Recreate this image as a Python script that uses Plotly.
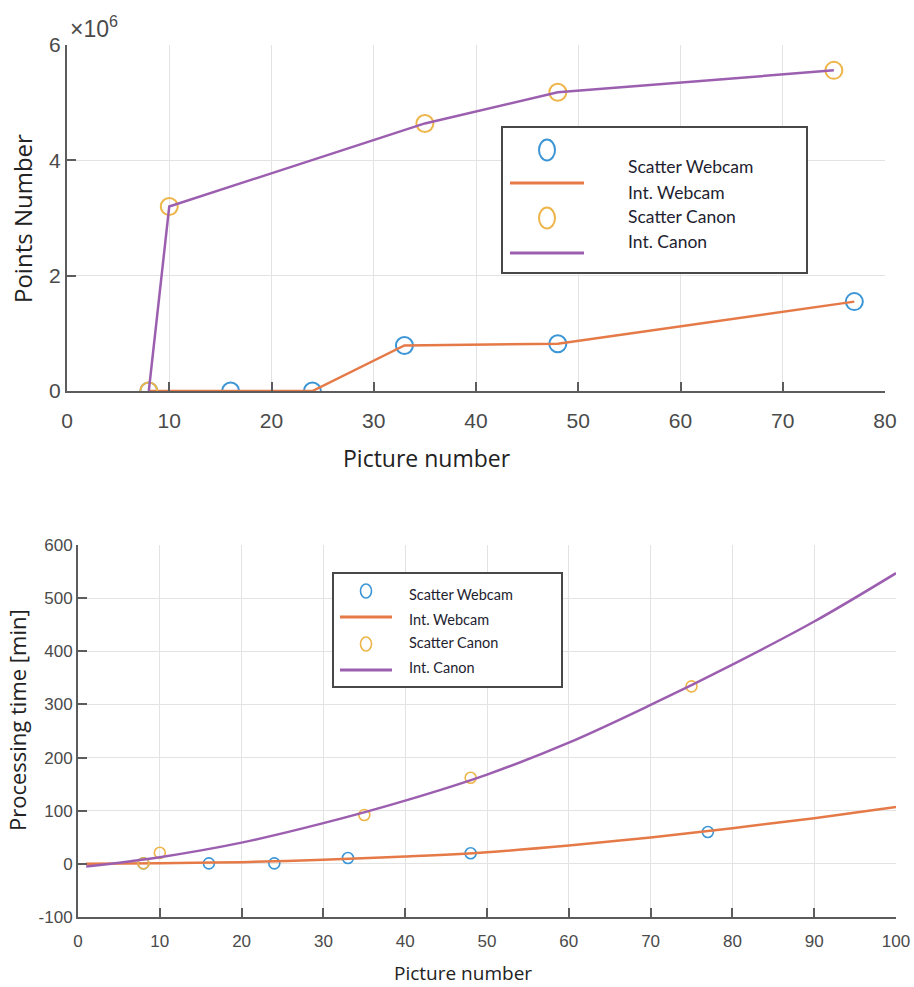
import plotly.graph_objects as go

# ---------------- data (top: number of points) ----------------
webcam_pic = [8, 16, 24, 33, 48, 77]
webcam_points = [0, 0, 0, 0.79e6, 0.82e6, 1.55e6]
canon_pic = [8, 10, 35, 48, 75]
canon_points = [0, 3.2e6, 4.64e6, 5.18e6, 5.56e6]

# ---------------- data (bottom: processing time) ----------------
webcam_time = [1, 1, 1, 11, 20, 60]
canon_time = [1, 21, 92, 162, 334]
fit_x = [1, 10, 20, 30, 40, 50, 60, 70, 80, 90, 100]
webcam_fit = [0, 1.3, 3.2, 7.5, 13.8, 22, 34.5, 49.6, 67, 86, 107]
canon_fit = [-5, 12.6, 40, 76.6, 119, 168, 228, 299, 375, 456, 547]

top_xticks = list(range(0, 81, 10))
top_yticks = [0, 2e6, 4e6, 6e6]
top_yticktext = ["0", "2", "4", "6"]
bot_xticks = list(range(0, 101, 10))
bot_yticks = list(range(-100, 601, 100))
bot_yticktext = ["-100", "0", "100", "200", "300", "400", "500", "600"]

legend_labels = ["Scatter Webcam", "Int. Webcam", "Scatter Canon", "Int. Canon"]

BLUE = "#3C96D6"
ORANGE = "#E57A48"
YELLOW = "#EDB54A"
PURPLE = "#9C5FB0"
AXC = "#5c5c5c"
GRID = "#e3e3e3"
TICKFONT = "Liberation Sans, Arial, sans-serif"
TITLEFONT = "Open Sans, sans-serif"
LEGFONT = "Lato, sans-serif"

W, H = 914, 987


def px(x):
    return x / W


def py(y):
    return 1 - y / H


fig = go.Figure()

# top chart
fig.add_trace(go.Scatter(x=webcam_pic, y=webcam_points, mode="markers",
                         marker=dict(symbol="circle-open", size=17, color=BLUE, line=dict(width=2)),
                         xaxis="x", yaxis="y", showlegend=False))
fig.add_trace(go.Scatter(x=webcam_pic, y=webcam_points, mode="lines",
                         line=dict(color=ORANGE, width=2.5), xaxis="x", yaxis="y", showlegend=False))
fig.add_trace(go.Scatter(x=canon_pic, y=canon_points, mode="markers",
                         marker=dict(symbol="circle-open", size=17, color=YELLOW, line=dict(width=2)),
                         xaxis="x", yaxis="y", showlegend=False))
fig.add_trace(go.Scatter(x=canon_pic, y=canon_points, mode="lines",
                         line=dict(color=PURPLE, width=2.5), xaxis="x", yaxis="y", showlegend=False))

# bottom chart
fig.add_trace(go.Scatter(x=webcam_pic, y=webcam_time, mode="markers",
                         marker=dict(symbol="circle-open", size=11, color=BLUE, line=dict(width=1.6)),
                         xaxis="x2", yaxis="y2", showlegend=False))
fig.add_trace(go.Scatter(x=fit_x, y=webcam_fit, mode="lines", line_shape="spline",
                         line=dict(color=ORANGE, width=2.5), xaxis="x2", yaxis="y2", showlegend=False))
fig.add_trace(go.Scatter(x=canon_pic, y=canon_time, mode="markers",
                         marker=dict(symbol="circle-open", size=11, color=YELLOW, line=dict(width=1.6)),
                         xaxis="x2", yaxis="y2", showlegend=False))
fig.add_trace(go.Scatter(x=fit_x, y=canon_fit, mode="lines", line_shape="spline",
                         line=dict(color=PURPLE, width=2.5), xaxis="x2", yaxis="y2", showlegend=False))


def axis(**kw):
    d = dict(showline=True, linecolor=AXC, linewidth=2, ticks="inside", ticklen=9,
             tickwidth=2, tickcolor=AXC, showgrid=True, gridcolor=GRID, gridwidth=1,
             zeroline=False, fixedrange=True, automargin=False)
    d.update(kw)
    return d


fig.update_layout(
    width=W, height=H, autosize=False,
    margin=dict(l=0, r=0, t=0, b=0),
    paper_bgcolor="white", plot_bgcolor="white",
    xaxis=axis(domain=[px(67), px(885)], range=[0, 80], tickvals=top_xticks, anchor="y",
               ticklabelstandoff=10,
               tickfont=dict(family=TICKFONT, size=21, color="#4a4a4a")),
    yaxis=axis(domain=[py(391), py(45)], range=[0, 6e6], tickvals=top_yticks,
               ticktext=top_yticktext, anchor="x",
               tickfont=dict(family=TICKFONT, size=21, color="#4a4a4a")),
    xaxis2=axis(domain=[px(78), px(896)], range=[0, 100], tickvals=bot_xticks, anchor="y2",
                ticklabelstandoff=8,
                tickfont=dict(family=TICKFONT, size=17, color="#4a4a4a")),
    yaxis2=axis(domain=[py(917), py(545)], range=[-100, 600], tickvals=bot_yticks,
                ticktext=bot_yticktext, anchor="x2",
                tickfont=dict(family=TICKFONT, size=17, color="#4a4a4a")),
)

shapes = []
annotations = []

# axis titles and exponent
annotations.append(dict(text="Points Number", x=px(22), y=py(219), xref="paper", yref="paper",
                        textangle=-90, showarrow=False, xanchor="center", yanchor="middle",
                        font=dict(family=TITLEFONT, size=24, color="#222")))
annotations.append(dict(text="Picture number", x=px(427), y=py(458), xref="paper", yref="paper",
                        showarrow=False, xanchor="center", yanchor="middle",
                        font=dict(family=TITLEFONT, size=23, color="#222")))
annotations.append(dict(text="Processing time [min]", x=px(17), y=py(720), xref="paper", yref="paper",
                        textangle=-90, showarrow=False, xanchor="center", yanchor="middle",
                        font=dict(family=TITLEFONT, size=22, color="#222")))
annotations.append(dict(text="Picture number", x=px(463), y=py(973), xref="paper", yref="paper",
                        showarrow=False, xanchor="center", yanchor="middle",
                        font=dict(family=TITLEFONT, size=19, color="#222")))
annotations.append(dict(text="×10<sup>6</sup>", x=px(68), y=py(27), xref="paper", yref="paper",
                        showarrow=False, xanchor="left", yanchor="middle",
                        font=dict(family=TICKFONT, size=23, color="#4a4a4a")))


def legend(box, circ_x, circ_w, circ_h, circ_ys, line_x, line_ys, text_x, text_ys, fsize, lw):
    shapes.append(dict(type="rect", xref="paper", yref="paper",
                       x0=px(box[0]), x1=px(box[1]), y0=py(box[3]), y1=py(box[2]),
                       line=dict(color="#484848", width=2), fillcolor="white", layer="above"))
    for cy, col in zip(circ_ys, [BLUE, YELLOW]):
        shapes.append(dict(type="circle", xref="paper", yref="paper",
                           x0=px(circ_x - circ_w / 2), x1=px(circ_x + circ_w / 2),
                           y0=py(cy + circ_h / 2), y1=py(cy - circ_h / 2),
                           line=dict(color=col, width=lw), layer="above"))
    for ly, col in zip(line_ys, [ORANGE, PURPLE]):
        shapes.append(dict(type="line", xref="paper", yref="paper",
                           x0=px(line_x[0]), x1=px(line_x[1]), y0=py(ly), y1=py(ly),
                           line=dict(color=col, width=3), layer="above"))
    for ty, lab in zip(text_ys, legend_labels):
        annotations.append(dict(text=lab, x=px(text_x), y=py(ty), xref="paper", yref="paper",
                                showarrow=False, xanchor="left", yanchor="middle",
                                font=dict(family=LEGFONT, size=fsize, color="#1e1e30")))


legend(box=(502, 807, 127, 273), circ_x=547, circ_w=16, circ_h=21, circ_ys=(150, 218),
       line_x=(510, 584), line_ys=(183, 253), text_x=626, text_ys=(167, 192, 216, 242),
       fsize=17.5, lw=2)
legend(box=(333, 562, 573, 687), circ_x=366, circ_w=11, circ_h=14, circ_ys=(591, 644),
       line_x=(340, 392), line_ys=(617, 670), text_x=407, text_ys=(594, 619, 642, 667),
       fsize=14.5, lw=1.6)

fig.update_layout(shapes=shapes, annotations=annotations)

fig.write_html("out.html")
